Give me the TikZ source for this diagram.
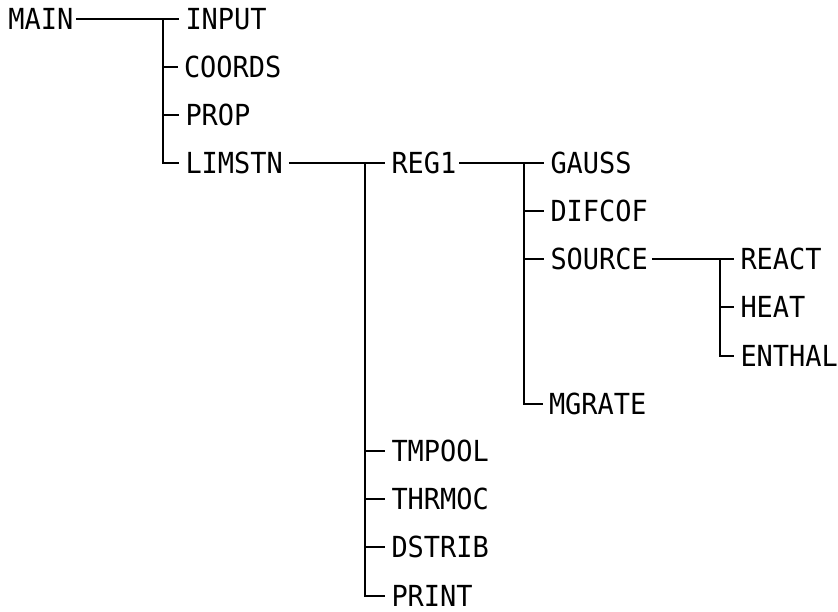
\documentclass[tikz,border=0pt]{standalone}
\usepackage{fontspec}
\newfontfamily\lpfont[FakeStretch=0.93]{DejaVu Sans Mono}
\begin{document}
\begin{tikzpicture}[x=1pt,y=-1pt,
  lbl/.style={anchor=west,inner sep=0pt,outer sep=0pt,font=\lpfont\fontsize{29}{29}\selectfont},
  conn/.style={line width=2pt,line cap=butt,shorten >=6.5pt},
  pconn/.style={conn,shorten <=3pt}]
\useasboundingbox (0,0) rectangle (838,612);
% rows: y = 19 + 48 i
\node[lbl] (main)   at (8.5,19)  {MAIN};
\node[lbl] (input)  at (185.5,19)  {INPUT};
\node[lbl] (coords) at (184,67)  {COORDS};
\node[lbl] (prop)   at (185.5,115) {PROP};
\node[lbl] (limstn) at (185.5,163) {LIMSTN};
\node[lbl] (reg1)   at (391.5,163) {REG1};
\node[lbl] (tmpool) at (391.5,451) {TMPOOL};
\node[lbl] (thrmoc) at (391.5,499) {THRMOC};
\node[lbl] (dstrib) at (391.5,547) {DSTRIB};
\node[lbl] (print)  at (391.5,596) {PRINT};
\node[lbl] (gauss)  at (550.5,163) {GAUSS};
\node[lbl] (difcof) at (550.5,211) {DIFCOF};
\node[lbl] (source) at (550.5,259) {SOURCE};
\node[lbl] (mgrate) at (549,404) {MGRATE};
\node[lbl] (react)  at (740.5,259) {REACT};
\node[lbl] (heat)   at (740.5,307) {HEAT};
\node[lbl] (enthal) at (740.5,356) {ENTHAL};
% tee positions
\coordinate (t1) at (163,19);
\coordinate (t2) at (365,163);
\coordinate (t3) at (524,163);
\coordinate (t4) at (720,259);
% MAIN
\draw[pconn] (main.east) -- (input.west);
\draw[conn] (t1) |- (limstn.west);
\draw[conn] (t1 |- coords.west) -- (coords.west);
\draw[conn] (t1 |- prop.west) -- (prop.west);
% LIMSTN
\draw[pconn,shorten <=6pt] (limstn.east) -- (reg1.west);
\draw[conn] (t2) |- (print.west);
\draw[conn] (t2 |- tmpool.west) -- (tmpool.west);
\draw[conn] (t2 |- thrmoc.west) -- (thrmoc.west);
\draw[conn] (t2 |- dstrib.west) -- (dstrib.west);
% REG1
\draw[pconn] (reg1.east) -- (gauss.west);
\draw[conn] (t3) |- (mgrate.west);
\draw[conn] (t3 |- difcof.west) -- (difcof.west);
\draw[conn] (t3 |- source.west) -- (source.west);
% SOURCE
\draw[pconn,shorten <=4pt] (source.east) -- (react.west);
\draw[conn] (t4) |- (enthal.west);
\draw[conn] (t4 |- heat.west) -- (heat.west);
\end{tikzpicture}
\end{document}
